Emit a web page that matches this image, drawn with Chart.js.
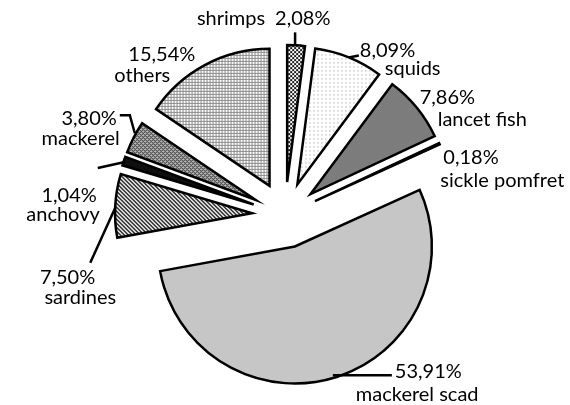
<!DOCTYPE html>
<html>
<head>
<meta charset="utf-8">
<script src="https://cdn.jsdelivr.net/npm/chart.js@4.4.1/dist/chart.umd.min.js"></script>
<style>
  html, body { margin: 0; padding: 0; background: #fff; }
  #wrap { width: 570px; height: 405px; }
</style>
</head>
<body>
<div id="wrap"><canvas id="pie_Chart"></canvas></div>
<script>
// dados do gráfico (sentido horário a partir do topo)
const especies = ['shrimps', 'squids', 'lancet fish', 'sickle pomfret', 'mackerel scad', 'sardines', 'anchovy', 'mackerel', 'others'];
const percentuais = [2.08, 8.09, 7.86, 0.18, 53.91, 7.50, 1.04, 3.80, 15.54];

// deslocamento das fatias (pie explodido)
const EXPLODE = 33;

// cria um padrão a partir de uma função de pixel
function padrao(tam, corDe) {
  const c = document.createElement('canvas');
  c.width = tam; c.height = tam;
  const g = c.getContext('2d');
  for (let y = 0; y < tam; y++) {
    for (let x = 0; x < tam; x++) {
      g.fillStyle = corDe(x, y);
      g.fillRect(x, y, 1, 1);
    }
  }
  return g.createPattern(c, 'repeat');
}

const chartCanvas = document.getElementById('pie_Chart');
const ctx0 = chartCanvas.getContext('2d');

const preenchimentos = [
  // shrimps
  padrao(4, (x, y) => ((x >> 1) + (y >> 1)) % 2 ? '#ffffff' : '#1a1a1a'),
  // squids
  padrao(4, (x, y) => (x % 4 === 1 && y % 4 === 1) ? '#8a8a8a' : '#ffffff'),
  // lancet fish
  padrao(2, (x, y) => (x + y) % 2 ? '#5e5e5e' : '#9c9c9c'),
  // sickle pomfret
  padrao(2, (x, y) => (x + y) % 2 ? '#000000' : '#333333'),
  // mackerel scad
  padrao(2, (x, y) => (x + y) % 2 ? '#9a9a9a' : '#f2f2f2'),
  // sardines
  padrao(4, (x, y) => ((x - y + 8) % 4) < 2 ? '#2a2a2a' : '#f0f0f0'),
  // anchovy
  padrao(2, (x, y) => (x + y) % 2 ? '#000000' : '#1e1e1e'),
  // mackerel
  padrao(4, (x, y) => ((x + y) % 4 === 0 || (x - y + 8) % 4 === 0) ? '#222222' : '#bdbdbd'),
  // others
  padrao(3, (x, y) => (x % 3 === 0 || y % 3 === 0) ? '#8c8c8c' : '#ffffff')
];

// posição dos rótulos em relação ao ponto externo de cada fatia
const rotulos = [
  { pct: [-21, -27, 'left'], nome: [-31, -27, 'right'], guia: [[-1, 0], [-1, -13]] },
  { pct: [11, -7, 'left'], nome: [36, 11, 'left'], guia: [[0, 0], [10, -2]] },
  { pct: [3, -10, 'left'], nome: [21, 12, 'left'], guia: null },
  { pct: [4, 14, 'left'], nome: [1, 37, 'left'], guia: null },
  { pct: [59, -6, 'left'], nome: [20, 17, 'left'], guia: [[-3, -2], [56, -2]] },
  { pct: [-20, 72, 'right'], nome: [1, 92, 'right'], guia: [[0, 2], [-25, 57]] },
  { pct: [-27, 34, 'right'], nome: [-24, 53, 'right'], guia: [[1, 1], [-26, 7]] },
  { pct: [-17, -19, 'right'], nome: [-14, 1, 'right'], guia: [[1, -4], [-4, -22], [-14, -22]] },
  { pct: [-10, -10, 'right'], nome: [-35, 11, 'right'], guia: null }
];

function formata(v) {
  return v.toFixed(2).replace('.', ',') + '%';
}

// desenha as fatias deslocadas do centro
const explodePlugin = {
  id: 'explode',
  beforeDatasetDraw(chart, args) {
    const ctx = chart.ctx;
    args.meta.data.forEach(arc => {
      const mid = (arc.startAngle + arc.endAngle) / 2;
      ctx.save();
      ctx.translate(Math.cos(mid) * EXPLODE, Math.sin(mid) * EXPLODE);
      arc.draw(ctx);
      ctx.restore();
    });
    return false;
  }
};

// rótulos com linhas guia
const rotulosPlugin = {
  id: 'rotulos',
  afterDatasetsDraw(chart) {
    const ctx = chart.ctx;
    const meta = chart.getDatasetMeta(0);
    ctx.save();
    ctx.font = '20px Lato';
    ctx.fillStyle = '#000';
    ctx.strokeStyle = '#000';
    ctx.lineWidth = 2.5;
    ctx.textBaseline = 'middle';
    meta.data.forEach((arc, i) => {
      const mid = (arc.startAngle + arc.endAngle) / 2;
      const r = arc.outerRadius + EXPLODE;
      const ax = arc.x + Math.cos(mid) * r;
      const ay = arc.y + Math.sin(mid) * r;
      const cfg = rotulos[i];
      if (cfg.guia) {
        ctx.beginPath();
        cfg.guia.forEach((p, k) => {
          if (k === 0) ctx.moveTo(ax + p[0], ay + p[1]);
          else ctx.lineTo(ax + p[0], ay + p[1]);
        });
        ctx.stroke();
      }
      ctx.textAlign = cfg.pct[2];
      ctx.fillText(formata(percentuais[i]), ax + cfg.pct[0], ay + cfg.pct[1]);
      ctx.textAlign = cfg.nome[2];
      ctx.fillText(especies[i], ax + cfg.nome[0], ay + cfg.nome[1]);
    });
    ctx.restore();
  }
};

const data = {
  labels: especies,
  datasets: [{
    data: percentuais,
    backgroundColor: preenchimentos,
    borderColor: '#000',
    borderWidth: 2.5,
    borderJoinStyle: 'miter'
  }]
};

const config = {
  type: 'pie',
  data: data,
  options: {
    responsive: true,
    maintainAspectRatio: false,
    animation: false,
    events: [],
    radius: 137,
    layout: { padding: { top: 25, bottom: 0, left: 0, right: 0 } },
    plugins: {
      legend: { display: false },
      tooltip: { enabled: false }
    }
  },
  plugins: [explodePlugin, rotulosPlugin]
};

const myChart = new Chart(chartCanvas, config);
</script>
</body>
</html>
